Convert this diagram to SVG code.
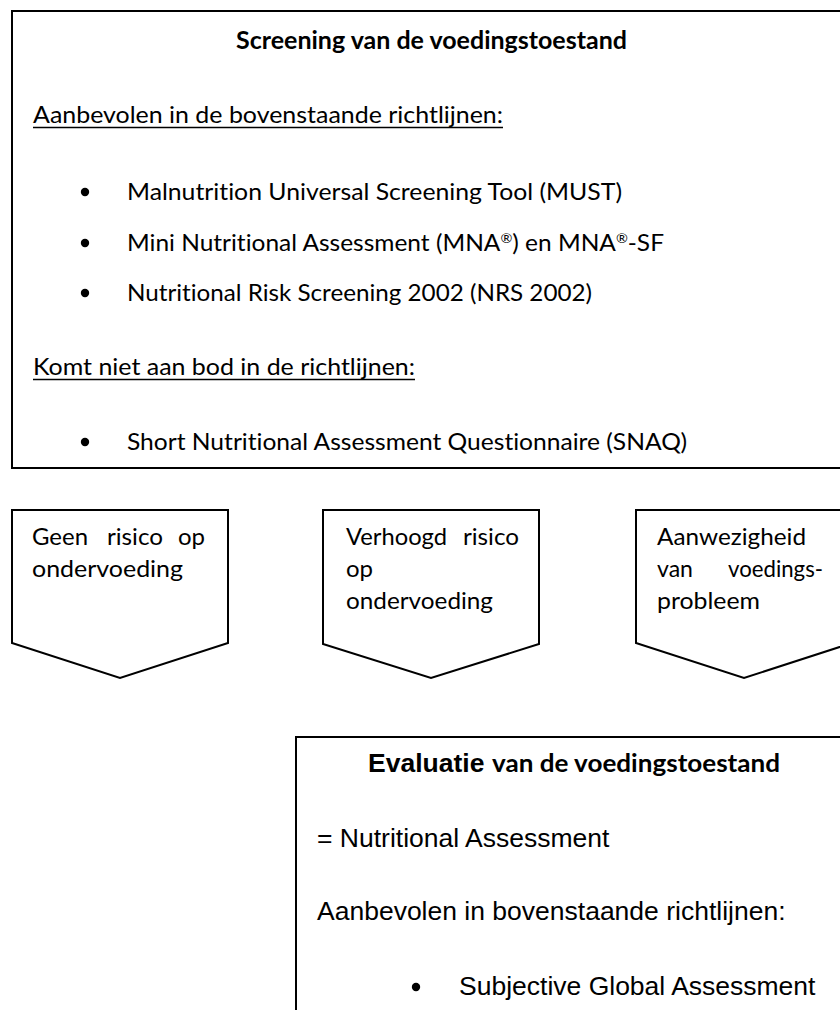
<svg xmlns="http://www.w3.org/2000/svg" width="840" height="1010" viewBox="0 0 840 1010">
  <style>
    .frame { fill: #ffffff; stroke: #000000; stroke-width: 2; }
    .t { font-family: Lato, "Open Sans", sans-serif; font-size: 24px; fill: #000000; font-variant-ligatures: none; }
    .tb { font-family: Lato, "Open Sans", sans-serif; font-size: 24px; font-weight: bold; fill: #000000; font-variant-ligatures: none; }
    .a { font-family: "Liberation Sans", Arial, sans-serif; font-size: 26.5px; fill: #000000; }
    .ab { font-family: "Liberation Sans", Arial, sans-serif; font-size: 26.5px; font-weight: bold; fill: #000000; }
    .ul { stroke: #000000; stroke-width: 1.6; }
    .dot { fill: #000000; }
    .sup { font-size: 14px; }
  </style>

  <rect width="840" height="1010" fill="#ffffff"/>

  <!-- Screening box -->
  <g id="screening">
    <rect class="frame" x="12" y="11" width="840" height="457"/>
    <text class="tb" x="431.5" y="49" text-anchor="middle" textLength="391" lengthAdjust="spacingAndGlyphs">Screening van de voedingstoestand</text>

    <text class="t" x="33" y="123" textLength="470" lengthAdjust="spacingAndGlyphs">Aanbevolen in de bovenstaande richtlijnen:</text>
    <line class="ul" x1="33" y1="127.5" x2="503" y2="127.5"/>

    <circle class="dot" cx="85" cy="192" r="4.2"/>
    <text class="t" x="127" y="200" textLength="495" lengthAdjust="spacingAndGlyphs">Malnutrition Universal Screening Tool (MUST)</text>

    <circle class="dot" cx="85" cy="243" r="4.2"/>
    <text class="t" x="127" y="251" textLength="537" lengthAdjust="spacingAndGlyphs">Mini Nutritional Assessment (MNA<tspan class="sup" baseline-shift="super">®</tspan>) en MNA<tspan class="sup" baseline-shift="super">®</tspan>-SF</text>

    <circle class="dot" cx="85" cy="293" r="4.2"/>
    <text class="t" x="127" y="301" textLength="465" lengthAdjust="spacingAndGlyphs">Nutritional Risk Screening 2002 (NRS 2002)</text>

    <text class="t" x="33" y="375" textLength="382" lengthAdjust="spacingAndGlyphs">Komt niet aan bod in de richtlijnen:</text>
    <line class="ul" x1="33" y1="379.5" x2="415" y2="379.5"/>

    <circle class="dot" cx="85" cy="442" r="4.2"/>
    <text class="t" x="127" y="450" textLength="560" lengthAdjust="spacingAndGlyphs">Short Nutritional Assessment Questionnaire (SNAQ)</text>
  </g>

  <!-- Outcome chevrons -->
  <g id="geen-risico">
    <polygon class="frame" points="12,510 228,510 228,643 120,678 12,643"/>
    <text class="t" x="32" y="545" textLength="56" lengthAdjust="spacingAndGlyphs">Geen</text>
    <text class="t" x="107" y="545" textLength="56" lengthAdjust="spacingAndGlyphs">risico</text>
    <text class="t" x="205" y="545" text-anchor="end">op</text>
    <text class="t" x="32" y="577" textLength="151" lengthAdjust="spacingAndGlyphs">ondervoeding</text>
  </g>

  <g id="verhoogd-risico">
    <polygon class="frame" points="323,510 539,510 539,644 431,678 323,644"/>
    <text class="t" x="346" y="545" textLength="101" lengthAdjust="spacingAndGlyphs">Verhoogd</text>
    <text class="t" x="519" y="545" text-anchor="end" textLength="56" lengthAdjust="spacingAndGlyphs">risico</text>
    <text class="t" x="346" y="577">op</text>
    <text class="t" x="346" y="609" textLength="147" lengthAdjust="spacingAndGlyphs">ondervoeding</text>
  </g>

  <g id="voedingsprobleem">
    <polygon class="frame" points="636,510 852,510 852,643 744,678 636,643"/>
    <text class="t" x="657" y="545" textLength="149" lengthAdjust="spacingAndGlyphs">Aanwezigheid</text>
    <text class="t" x="657" y="577" textLength="36" lengthAdjust="spacingAndGlyphs">van</text>
    <text class="t" x="823" y="577" text-anchor="end" textLength="95" lengthAdjust="spacingAndGlyphs">voedings-</text>
    <text class="t" x="657" y="609" textLength="103" lengthAdjust="spacingAndGlyphs">probleem</text>
  </g>

  <!-- Evaluation box -->
  <g id="evaluatie">
    <rect class="frame" x="296" y="737" width="560" height="290"/>
    <text class="ab" x="368" y="772">Evaluatie</text>
    <text class="tb" x="492" y="772" textLength="288" lengthAdjust="spacingAndGlyphs">van de voedingstoestand</text>
    <text class="a" x="317" y="847">= Nutritional Assessment</text>
    <text class="a" x="317" y="920">Aanbevolen in bovenstaande richtlijnen:</text>
    <circle class="dot" cx="416" cy="987" r="4.2"/>
    <text class="a" x="459" y="995">Subjective Global Assessment</text>
  </g>
</svg>
